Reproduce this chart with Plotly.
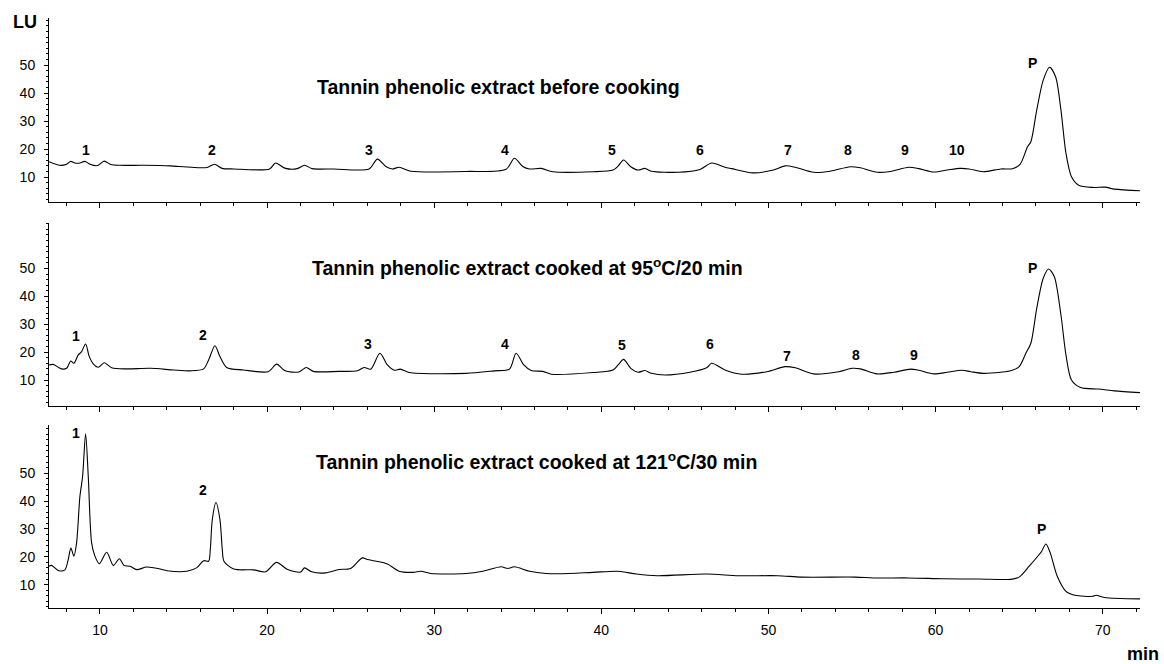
import plotly.graph_objects as go

# ---- Chromatograms (retention time in min, fluorescence in LU) ----
t_before = [6.95, 7.6, 8.0, 8.25, 8.5, 8.8, 9.1, 9.4, 9.85, 10.25, 10.65, 11.2, 12.6, 14.2,
            15.2, 16.4, 16.85, 17.3, 18.0, 20.15, 20.5, 21.1, 21.8, 22.24, 22.7, 24.0, 26.1,
            26.6, 27.1, 27.5, 27.9, 28.6, 31.9, 34.3, 34.8, 35.3, 35.7, 36.4, 37.1, 39.5,
            40.7, 41.0, 41.33, 41.76, 42.2, 42.6, 43.0, 44.6, 45.9, 46.6, 47.4, 47.8, 49.06,
            50.3, 51.0, 51.6, 52.7, 53.7, 54.9, 55.5, 56.5, 57.3, 58.4, 59.0, 59.9, 60.7,
            61.46, 62.0, 62.84, 63.9, 64.6, 65.05, 65.5, 65.7, 66.05, 66.44, 66.82, 67.18,
            67.5, 67.8, 68.13, 68.56, 69.4, 70.14, 70.7, 72.23]
lu_before = [15.5, 14.2, 14.6, 15.6, 15.0, 15.0, 15.6, 14.6, 14.1, 15.7, 14.5, 14.2, 14.2, 14.0,
             13.6, 13.4, 14.6, 13.1, 12.9, 12.9, 15.0, 13.1, 13.0, 14.2, 13.0, 12.9, 12.9,
             16.4, 13.8, 12.9, 13.5, 12.1, 12.0, 12.8, 16.7, 13.8, 12.9, 13.1, 11.9, 11.9,
             12.5, 13.9, 16.1, 13.7, 12.5, 13.1, 12.1, 11.7, 12.7, 15.0, 13.5, 13.0, 11.5,
             12.5, 14.0, 13.5, 11.7, 12.1, 13.7, 13.3, 11.7, 12.0, 13.5, 13.0, 11.8, 12.5,
             13.1, 12.9, 11.9, 12.9, 13.0, 14.5, 20.8, 22.6, 33.9, 44.6, 49.2, 45.8,
             33.9, 18.5, 10.1, 7.1, 6.3, 6.4, 5.7, 5.1]

t_95 = [6.95, 7.2, 7.7, 8.0, 8.25, 8.44, 8.7, 8.9, 9.14, 9.36, 9.6, 9.9, 10.26, 10.7, 11.6,
        13.0, 14.4, 15.4, 16.2, 16.5, 16.88, 17.18, 17.58, 18.58, 20.07, 20.57, 21.07, 21.9,
        22.35, 22.76, 24.3, 25.4, 25.8, 26.2, 26.75, 27.2, 27.6, 27.97, 28.5, 31.9, 33.6,
        34.5, 34.9, 35.36, 35.8, 36.5, 37.0, 39.5, 40.7, 41.0, 41.33, 41.76, 42.2, 42.6,
        43.0, 43.8, 45.3, 46.3, 46.6, 47.4, 48.4, 49.9, 51.0, 51.6, 52.7, 54.2, 55.0, 55.5,
        56.5, 57.5, 58.5, 59.0, 59.9, 60.7, 61.57, 62.1, 62.84, 63.9, 64.5, 65.0, 65.4,
        65.7, 66.05, 66.44, 66.76, 67.1, 67.5, 67.8, 68.13, 68.67, 69.6, 69.9, 70.7, 72.23]
lu_95 = [15.4, 15.6, 14.0, 14.2, 16.8, 16.0, 19.0, 20.2, 22.9, 18.4, 15.8, 14.6, 16.2, 14.4, 14.0,
         14.2, 13.6, 13.3, 14.0, 17.2, 22.3, 18.4, 14.5, 13.6, 13.0, 15.7, 13.3, 12.9,
         14.5, 13.1, 13.1, 13.3, 14.5, 13.9, 19.6, 15.4, 13.5, 13.9, 12.7, 12.4, 13.3,
         13.9, 19.6, 15.4, 13.4, 13.1, 12.1, 12.7, 13.6, 15.4, 17.4, 14.2, 12.8, 13.4,
         12.4, 11.8, 12.8, 14.4, 16.0, 13.6, 12.1, 13.0, 14.8, 14.4, 12.2, 13.0, 14.2, 14.0,
         12.2, 12.8, 13.9, 13.5, 12.2, 12.8, 13.5, 13.0, 12.4, 12.8, 13.3, 14.8, 19.6,
         23.2, 35.7, 46.5, 49.8, 47.1, 33.3, 19.0, 10.0, 7.3, 6.8, 6.7, 6.1, 5.5]

t_121 = [6.95, 7.1, 7.5, 7.9, 8.1, 8.26, 8.44, 8.6, 8.8, 8.96, 9.14, 9.3, 9.5, 9.7, 9.96, 10.4,
         10.8, 11.16, 11.44, 11.8, 12.2, 12.8, 13.6, 14.0, 15.2, 15.8, 16.2, 16.5, 16.6, 16.72,
         16.94, 17.18, 17.32, 17.42, 18.0, 19.2, 19.9, 20.57, 21.2, 22.0, 22.24, 22.66, 23.5,
         24.3, 25.0, 25.7, 26.0, 26.55, 27.2, 27.9, 28.75, 29.2, 29.8, 31.9, 32.9, 34.0, 34.4,
         34.8, 35.7, 36.7, 37.6, 39.5, 41.0, 42.1, 43.35, 46.3, 48.2, 50.55, 52.0, 55.2,
         56.3, 58.4, 60.5, 62.6, 64.5, 65.0, 65.6, 66.1, 66.34, 66.6, 66.86, 67.28, 67.8,
         68.34, 69.4, 69.6, 70.1, 72.23]
lu_121 = [16.6, 16.9, 15.1, 15.3, 19.0, 23.1, 20.2, 25.0, 41.7, 48.8, 64.1, 48.8, 25.0, 20.2, 17.5, 21.6,
          16.9, 19.3, 16.9, 16.6, 15.4, 16.3, 15.6, 15.0, 14.8, 16.1, 18.6, 18.4, 22.5, 33.3,
          39.5, 33.3, 22.5, 18.4, 15.6, 15.3, 14.6, 18.0, 15.5, 14.5, 16.0, 14.6, 14.2,
          15.4, 15.8, 19.6, 19.0, 18.4, 17.4, 14.8, 14.4, 14.8, 14.0, 14.0, 14.8, 16.4, 15.8,
          16.4, 14.8, 14.0, 13.9, 14.4, 14.8, 13.8, 13.2, 13.8, 13.2, 13.2, 12.7, 12.7,
          12.4, 12.4, 12.1, 12.0, 11.9, 12.7, 16.6, 20.1, 21.9, 24.6, 21.4, 13.0, 7.6,
          6.2, 5.8, 6.2, 5.4, 4.9]

panel_titles = [
    "Tannin phenolic extract before cooking",
    "Tannin phenolic extract cooked at 95<sup>o</sup>C/20 min",
    "Tannin phenolic extract cooked at 121<sup>o</sup>C/30 min",
]

# peak numbering: (text, retention time, LU) where each number is written
labels_before = [("1", 9.16, 19.6), ("2", 16.70, 19.6), ("3", 26.10, 19.6), ("4", 34.24, 19.6),
                 ("5", 40.64, 19.6), ("6", 45.91, 19.6), ("7", 51.17, 19.6), ("8", 54.76, 19.6),
                 ("9", 58.17, 19.6), ("10", 61.29, 19.6), ("P", 65.78, 50.7)]
labels_95 = [("1", 8.56, 25.9), ("2", 16.15, 26.1), ("3", 26.06, 22.8), ("4", 34.21, 22.8),
             ("5", 41.23, 22.6), ("6", 46.48, 22.8), ("7", 51.08, 18.7), ("8", 55.21, 19.0),
             ("9", 58.71, 19.0), ("P", 65.80, 50.3)]
labels_121 = [("1", 8.56, 64.6), ("2", 16.18, 44.1), ("P", 66.33, 30.0)]

y_ticks = [10, 20, 30, 40, 50]
x_range = [6.95, 72.23]

# ---- layout geometry ----
W, H = 1164, 664
FONT = "Liberation Sans, Arial, Helvetica, sans-serif"
x_domain = [49 / W, 1140 / W]
panels = [
    # (top px, bottom px, y range)
    (18.0, 201.7, [1.2, 66.8]),
    (222.7, 405.7, [0.8, 66.4]),
    (425.0, 608.3, [1.5, 67.3]),
]
title_centers = [(498, 87), (527, 267), (536, 461)]

series = [(t_before, lu_before, labels_before),
          (t_95, lu_95, labels_95),
          (t_121, lu_121, labels_121)]

fig = go.Figure()
annotations = []
layout = {}

for i, ((t, lu, labels), (top, bottom, yr), title, (tx, ty)) in enumerate(
        zip(series, panels, panel_titles, title_centers)):
    n = "" if i == 0 else str(i + 1)
    xa, ya = "x" + n, "y" + n
    fig.add_trace(go.Scatter(
        x=t, y=lu, xaxis=xa, yaxis=ya, mode="lines", hoverinfo="x+y",
        line=dict(color="black", width=1.1, shape="spline", smoothing=0.8),
    ))
    layout["xaxis" + n] = dict(
        domain=x_domain, anchor=ya, range=x_range,
        showline=True, linecolor="black", linewidth=1,
        ticks="outside", ticklen=5, tickwidth=1, tickcolor="black",
        tickmode="linear", tick0=0, dtick=10,
        minor=dict(tickmode="linear", tick0=0, dtick=2, ticks="outside",
                   ticklen=3, tickwidth=1, tickcolor="black"),
        showticklabels=(i == 2), ticklabelstandoff=4,
        tickfont=dict(family=FONT, size=14, color="black"),
        showgrid=False, zeroline=False,
    )
    layout["yaxis" + n] = dict(
        domain=[1 - bottom / H, 1 - top / H], anchor=xa, range=yr,
        showline=True, linecolor="black", linewidth=1,
        ticks="outside", ticklen=4, tickwidth=1, tickcolor="black",
        tickmode="array", tickvals=y_ticks,
        minor=dict(tickmode="linear", tick0=0, dtick=2, ticks="outside",
                   ticklen=2.5, tickwidth=1, tickcolor="black"),
        ticklabelstandoff=6,
        tickfont=dict(family=FONT, size=14, color="black"),
        showgrid=False, zeroline=False,
    )
    annotations.append(dict(
        text="<b>" + title + "</b>", xref="paper", yref="paper",
        x=tx / W, y=1 - ty / H, xanchor="center", yanchor="middle",
        showarrow=False, font=dict(family=FONT, size=19.5, color="black"),
    ))
    for txt, lx, ly in labels:
        annotations.append(dict(
            text="<b>" + txt + "</b>", xref=xa, yref=ya, x=lx, y=ly,
            xanchor="center", yanchor="middle", showarrow=False,
            font=dict(family=FONT, size=14, color="black"),
        ))

annotations.append(dict(text="<b>LU</b>", xref="paper", yref="paper",
                        x=25 / W, y=1 - 22 / H, xanchor="center", yanchor="middle",
                        showarrow=False, font=dict(family=FONT, size=18, color="black")))
annotations.append(dict(text="<b>min</b>", xref="paper", yref="paper",
                        x=1143 / W, y=1 - 654 / H, xanchor="center", yanchor="middle",
                        showarrow=False, font=dict(family=FONT, size=18, color="black")))

fig.update_layout(
    width=W, height=H, margin=dict(l=0, r=0, t=0, b=0),
    paper_bgcolor="white", plot_bgcolor="white", showlegend=False,
    annotations=annotations, **layout,
)

fig.write_html("out.html")
